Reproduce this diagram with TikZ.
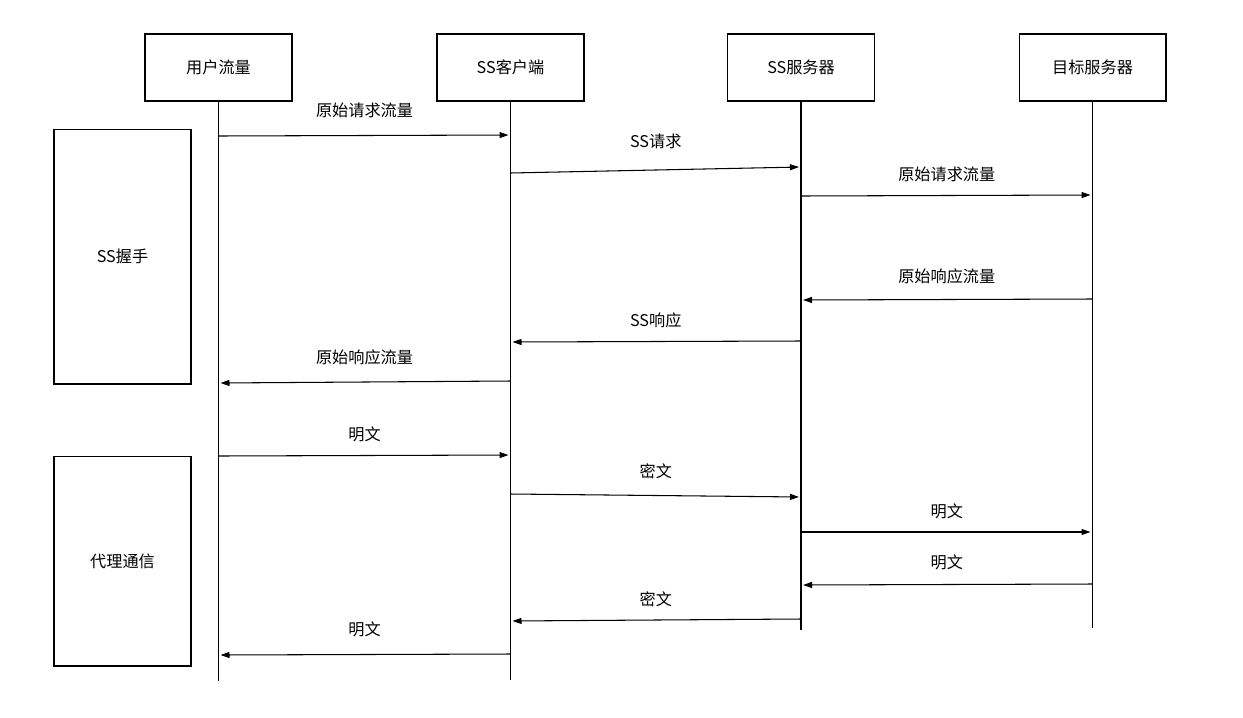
\documentclass[tikz,border=0pt]{standalone}
\usepackage{fontspec}
\setmainfont{Noto Sans CJK SC}
\usetikzlibrary{arrows.meta,positioning}

\tikzset{
  actor/.style={draw, line width=0.6pt, minimum width=2.94cm, minimum height=1.34cm, inner sep=0pt},
  phase/.style={draw, line width=0.6pt, minimum width=2.74cm, inner sep=0pt},
  life/.style={line width=0.6pt},
  msg/.style={line width=0.6pt, -{Triangle[length=1.8mm,width=1.2mm]}, shorten >=0.4mm},
  lbl/.style={font=\fontsize{9.2}{11}\selectfont}
}

\begin{document}
\begin{tikzpicture}[x=0.02cm, y=-0.02cm, font=\fontsize{9.2}{11}\selectfont]
  \useasboundingbox (0,0) rectangle (1243,717);

  % participants
  \node[actor] (user)   at (218.5,67.5)  {用户流量};
  \node[actor] (client) at (510.5,67.5)  {SS客户端};
  \node[actor] (server) at (801,67.5)    {SS服务器};
  \node[actor] (target) at (1092.5,67.5) {目标服务器};

  % lifelines
  \coordinate (user-end)   at (218,681);
  \coordinate (client-end) at (511,680);
  \coordinate (server-end) at (801,630);
  \coordinate (target-end) at (1093,628);
  \foreach \p in {user,client,server,target}
    \draw[life] (\p.south) -- (\p.south |- \p-end);

  % phases
  \node[phase, minimum height=5.1cm] (hs)    at (122.5,256.5) {SS握手};
  \node[phase, minimum height=4.2cm] (proxy) at (122.5,561)   {代理通信};

  % messages: from/to/y start/y end/label offset/text
  \foreach \a/\b/\ya/\yb/\dy/\txt in {
      user/client/136/135/25/原始请求流量,
      client/server/173/167/29/SS请求,
      server/target/196/195/21/原始请求流量,
      target/server/299/300/23/原始响应流量,
      server/client/341/342/21/SS响应,
      client/user/381/383/25/原始响应流量,
      user/client/456/455/21/明文,
      client/server/494/497/24/密文,
      server/target/532/532/21/明文,
      target/server/584/585/22/明文,
      server/client/619/621/21/密文,
      client/user/654/655/25/明文}
    \draw[msg] (\a.south |- 0,\ya) -- (\b.south |- 0,\yb)
      node[lbl, midway, yshift=\dy*0.2mm] {\txt};
\end{tikzpicture}
\end{document}
